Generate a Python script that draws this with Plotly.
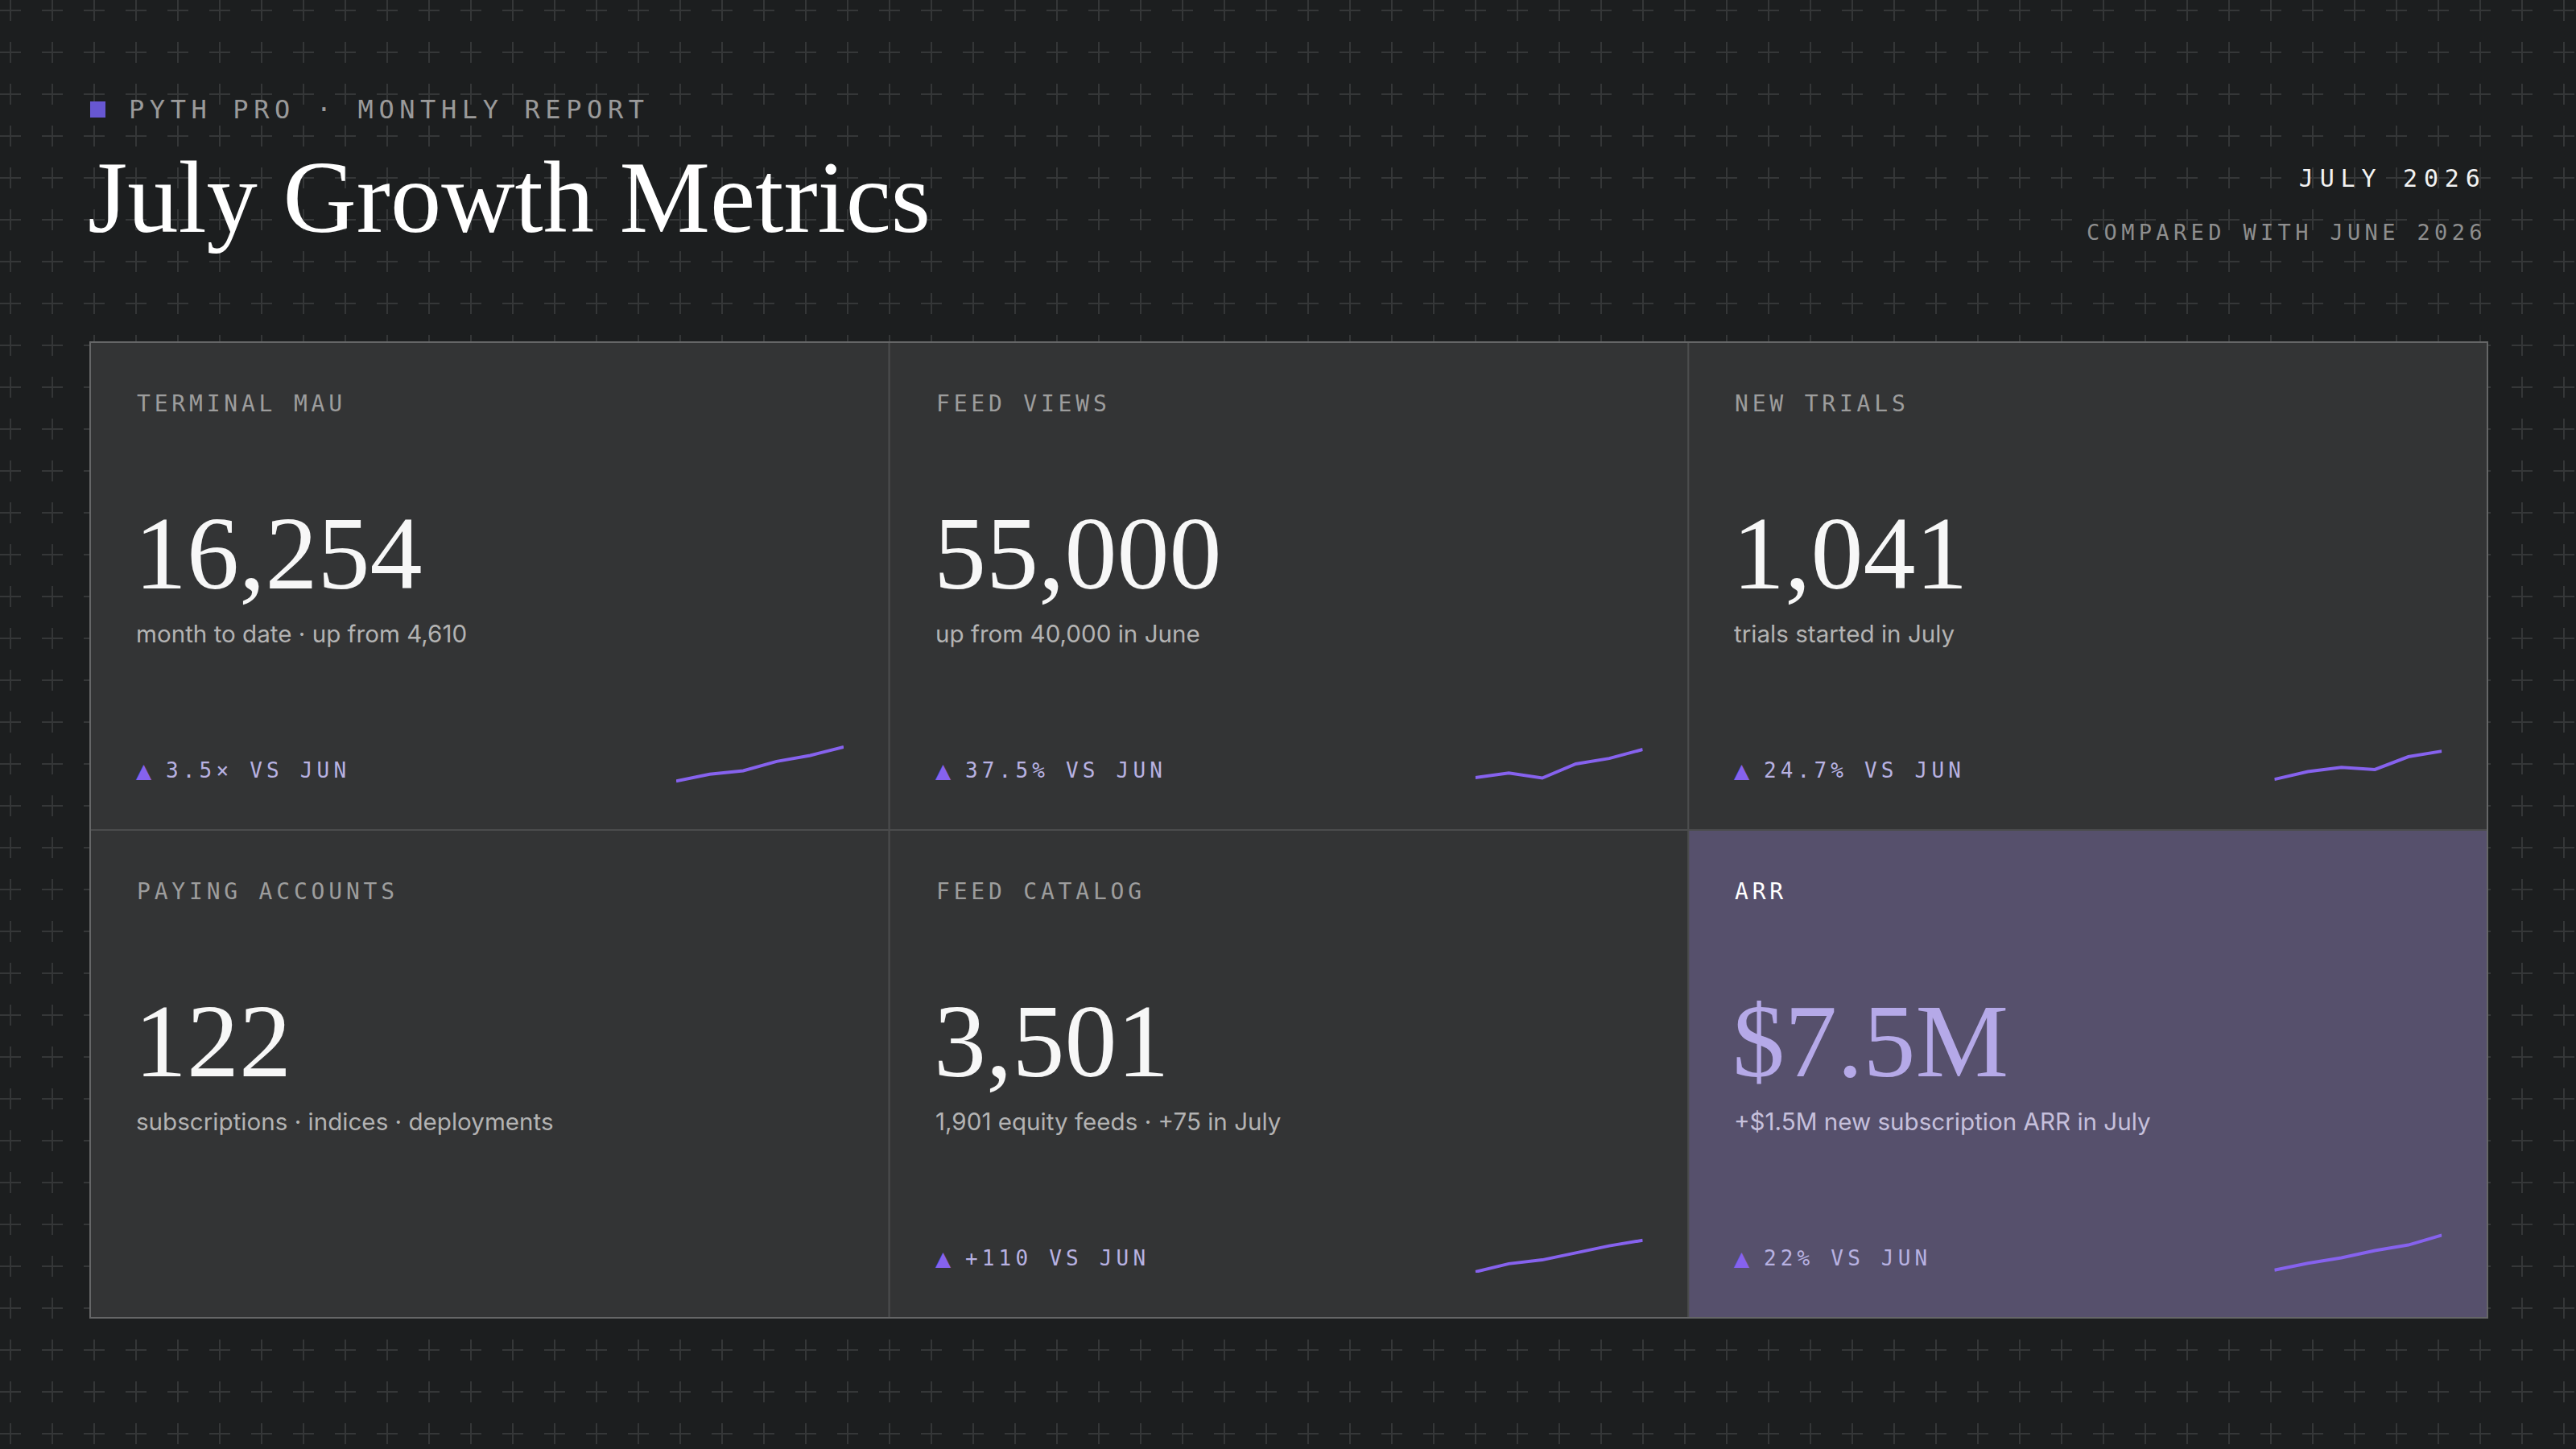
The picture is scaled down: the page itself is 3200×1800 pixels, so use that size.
import plotly.graph_objects as go

# ---------------- data ----------------
kicker = "PYTH PRO · MONTHLY REPORT"
title = "July Growth Metrics"
period = "JULY 2026"
comparison = "COMPARED WITH JUNE 2026"

labels = ["TERMINAL MAU", "FEED VIEWS", "NEW TRIALS",
          "PAYING ACCOUNTS", "FEED CATALOG", "ARR"]
values = ["16,254", "55,000", "1,041", "122", "3,501", "$7.5M"]
subtitles = ["month to date · up from 4,610",
             "up from 40,000 in June",
             "trials started in July",
             "subscriptions · indices · deployments",
             "1,901 equity feeds · +75 in July",
             "+$1.5M new subscription ARR in July"]
deltas = ["3.5× VS JUN", "37.5% VS JUN", "24.7% VS JUN", None,
          "+110 VS JUN", "22% VS JUN"]

# sparkline trends (relative index, 0-100), six periods each
spark_periods = [0, 1, 2, 3, 4, 5]
spark_terminal_mau = [9, 25, 33, 55, 69, 89]
spark_feed_views = [17, 28, 16, 49, 62, 83]
spark_new_trials = [13, 31, 41, 36, 66, 79]
spark_feed_catalog = [2, 21, 30, 46, 63, 76]
spark_arr = [6, 22, 35, 52, 65, 88]
sparks = [spark_terminal_mau, spark_feed_views, spark_new_trials, None,
          spark_feed_catalog, spark_arr]
highlight = [False, False, False, False, False, True]

# ---------------- style / layout ----------------
W, H = 3200, 1800
BG = "#1c1e1f"
CARD = "#333435"
CARD_HI = "#56506c"
SEP = "#4b4c4d"
OUTER = "#656667"
CROSS = "#353738"
PURPLE = "#8662ee"
MONO = "DejaVu Sans Mono"
SERIF = "Liberation Serif"
SANS = "Inter"

GX0, GY0, GX1, GY1 = 112, 425, 3090, 1637
NC, NR = 3, 2
CW = (GX1 - GX0) / NC
CH = (GY1 - GY0) / NR


def px(x):
    return x / W


def py(y):
    return 1 - y / H


shapes = []

# background cross pattern (decoration)
segs = []
step, off, arm = 52, 13, 13
yy = off
while yy < H + arm:
    xx = off
    while xx < W + arm:
        segs.append("M%.5f,%.5f H%.5f M%.5f,%.5f V%.5f" % (
            px(xx - arm), py(yy), px(xx + arm), px(xx), py(yy - arm), py(yy + arm)))
        xx += step
    yy += step
shapes.append(dict(type="path", xref="paper", yref="paper", path=" ".join(segs),
                   line=dict(color=CROSS, width=2), layer="below"))

# kicker square
shapes.append(dict(type="rect", xref="paper", yref="paper",
                   x0=px(112), x1=px(131), y0=py(126), y1=py(146),
                   fillcolor="#6757d2", line=dict(width=0), layer="below"))

annotations = []


def ann(text, x, baseline, size, family, color, anchor="left"):
    annotations.append(dict(
        text=text, xref="paper", yref="paper",
        x=px(x), y=py(baseline - 0.35 * size),
        xanchor=anchor, yanchor="middle", align=anchor,
        showarrow=False, borderpad=0,
        font=dict(size=size, family=family, color=color)))


ann(kicker, 159, 147, 32, MONO, "#9a9a9a")
ann(title, 108, 289, 126.5, SERIF, "#ffffff")
ann(period, 3090, 232, 30, MONO, "#f2f2f2", "right")
ann(comparison, 3090, 298, 27, MONO, "#8e8e8e", "right")

traces = []
all_axes = {}
k = 2
for i in range(NC * NR):
    r, c = divmod(i, NC)
    x0 = GX0 + c * CW
    y0 = GY0 + r * CH
    hi = highlight[i]
    shapes.append(dict(type="rect", xref="paper", yref="paper",
                       x0=px(x0), x1=px(x0 + CW), y0=py(y0), y1=py(y0 + CH),
                       fillcolor=CARD_HI if hi else CARD,
                       line=dict(color=SEP, width=2), layer="below"))
    ann(labels[i], x0 + 57, y0 + 86, 28, MONO, "#ffffff" if hi else "#9d9d9d")
    ann(values[i], x0 + 54, y0 + 307, 130, SERIF, "#b5a9e8" if hi else "#f7f7f7")
    ann(subtitles[i], x0 + 56, y0 + 372, 29.6, SANS, "#c6c0dc" if hi else "#b3b3b3")
    if deltas[i]:
        ann('<span style="color:%s;font-family:DejaVu Sans;font-size:25px">▲</span>'
            '<span style="font-size:12px"> </span>%s' % (PURPLE, deltas[i]),
            x0 + 56, y0 + 541, 26, MONO, "#b8b2e2")
    if sparks[i] is not None:
        traces.append(go.Scatter(
            x=spark_periods, y=sparks[i], mode="lines",
            line=dict(color=PURPLE, width=4),
            xaxis="x%d" % k, yaxis="y%d" % k,
            hoverinfo="skip", showlegend=False))
        all_axes["xaxis%d" % k] = dict(domain=[px(x0 + 728), px(x0 + 936)], range=[0, 5],
                                       visible=False, fixedrange=True, anchor="y%d" % k)
        all_axes["yaxis%d" % k] = dict(domain=[py(y0 + 550), py(y0 + 497)], range=[0, 100],
                                       visible=False, fixedrange=True, anchor="x%d" % k)
        k += 1

# outer border
shapes.append(dict(type="rect", xref="paper", yref="paper",
                   x0=px(GX0), x1=px(GX1), y0=py(GY0), y1=py(GY1),
                   fillcolor="rgba(0,0,0,0)", line=dict(color=OUTER, width=2),
                   layer="below"))

fig = go.Figure(data=traces)
fig.update_layout(
    width=W, height=H, margin=dict(l=0, r=0, t=0, b=0),
    paper_bgcolor=BG, plot_bgcolor="rgba(0,0,0,0)",
    shapes=shapes, annotations=annotations, showlegend=False,
    xaxis=dict(visible=False), yaxis=dict(visible=False),
    **all_axes)

post = """
document.body.style.margin = '0';
var spacing = {32: 6.6, 30: 7.8, 27: 5.35, 28: 4.8, 26: 5.2};
document.querySelectorAll('.js-plotly-plot text').forEach(function(t) {
  var ff = t.style.fontFamily || '';
  if (ff.indexOf('Mono') >= 0) {
    var fs = Math.round(parseFloat(t.style.fontSize));
    var ls = spacing[fs];
    if (ls) { t.setAttribute('letter-spacing', ls + 'px'); }
  }
});
"""
fig.write_html("out.html", config={"displayModeBar": False, "staticPlot": True},
               post_script=post)
